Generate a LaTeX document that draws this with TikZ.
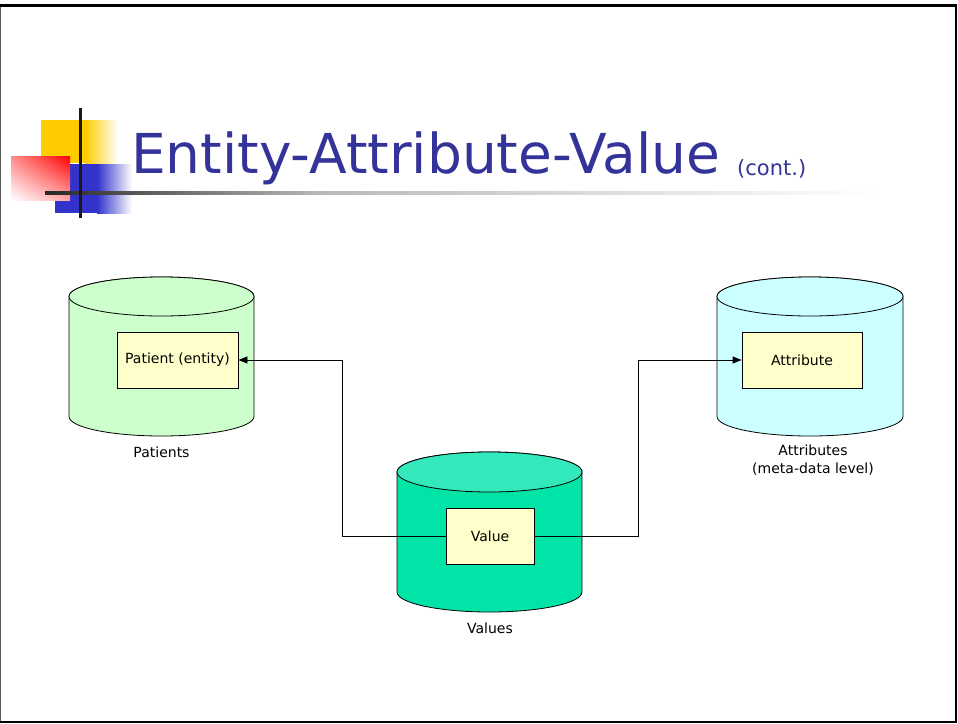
\documentclass[tikz,border=0pt]{standalone}
\usepackage{fontspec}
\setmainfont{DejaVu Sans}
\usetikzlibrary{arrows.meta,shadings}
\definecolor{titleblue}{HTML}{333399}
\definecolor{pgreen}{HTML}{CCFFCC}
\definecolor{vbody}{HTML}{00E4A8}
\definecolor{vtop}{HTML}{33E8BA}
\definecolor{acyan}{HTML}{CCFFFF}
\definecolor{boxyellow}{HTML}{FFFFCC}
\definecolor{logoyellow}{HTML}{FFCC00}
\definecolor{logoblue}{HTML}{3333CC}
\newcommand\dbcyl[7]{%
  \draw[fill=#6,line width=0.8pt] ({#1-#4},#2) -- ({#1-#4},#3)
     arc[start angle=180,end angle=360,x radius=#4pt,y radius=#5pt]
     -- ({#1+#4},#2) arc[start angle=0,end angle=180,x radius=#4pt,y radius=#5pt] -- cycle;
  \draw[fill=#7,line width=0.8pt] (#1,#2) ellipse[x radius=#4pt,y radius=#5pt];
}
\tikzset{
  inbox/.style={draw,line width=0.8pt,fill=boxyellow,inner sep=0pt,font=\fontsize{14}{17}\selectfont},
  lbl/.style={font=\fontsize{14}{18}\selectfont,align=center},
  conn/.style={line width=0.8pt},
  tip/.style={-{Triangle[length=9pt,width=7pt]}}
}
\begin{document}
\begin{tikzpicture}[x=1pt,y=-1pt]
\useasboundingbox (0,0) rectangle (958,723);
\fill[white] (0,0) rectangle (958,723);
% frame
\draw[gray!70!black,line width=1pt] (0.5,5) -- (0.5,722);
\draw[black,line width=3pt] (0,5.5) -- (957,5.5);
\draw[black,line width=2pt] (956,5) -- (956,722);
\draw[black,line width=2pt] (0,721.5) -- (957,721.5);
% logo
\fill[logoyellow] (41,120) rectangle (85,163);
\shade[left color=logoyellow,right color=white] (85,120) rectangle (118,163);
\fill[logoblue] (55,164) rectangle (97,213);
\shade[left color=logoblue,right color=white] (97,164) rectangle (132,213);
\shade[upper left=red!45,upper right=red,lower left=white,lower right=red!35] (11,156) rectangle (70,200);
\shade[left color=black!85,right color=gray!55] (45,191.5) rectangle (320,194.5);
\shade[left color=gray!55,right color=white] (320,191.5) rectangle (880,194.5);
\draw[black!90,line width=3pt] (80,108) -- (80,218);
% title
\node[anchor=base west,inner sep=0pt,text=titleblue,font=\fontsize{55}{62}\selectfont] (title) at (131,173) {Entity-Attribute-Value};
\node[anchor=base west,inner sep=0pt,text=titleblue,font=\fontsize{21}{25}\selectfont] (cont) at (737,175) {(cont.)};
% cylinders
\dbcyl{161.5}{296.5}{416.5}{92.5}{19.5}{pgreen}{pgreen}
\dbcyl{489.5}{472}{592}{92.5}{20}{vbody}{vtop}
\dbcyl{810}{296.5}{416.5}{93}{19.5}{acyan}{acyan}
% boxes
\node[inbox,minimum width=121pt,minimum height=56pt] (pat) at (177.5,360) {Patient (entity)};
\node[inbox,minimum width=88pt,minimum height=56pt] (val) at (490,536) {Value};
\node[inbox,minimum width=120pt,minimum height=56pt] (att) at (802,360) {Attribute};
% labels
\node[lbl] (patl) at (161.5,452) {Patients};
\node[lbl] (vall) at (490,628) {Values};
\node[lbl] (attl) at (813,460) {Attributes\\(meta-data level)};
% connectors
\coordinate (lb) at (342,536);
\coordinate (rb) at (638,536);
\draw[conn,tip] (val.west) -- (lb) |- (pat.east);
\draw[conn,tip] (val.east) -- (rb) |- (att.west);
\end{tikzpicture}
\end{document}
